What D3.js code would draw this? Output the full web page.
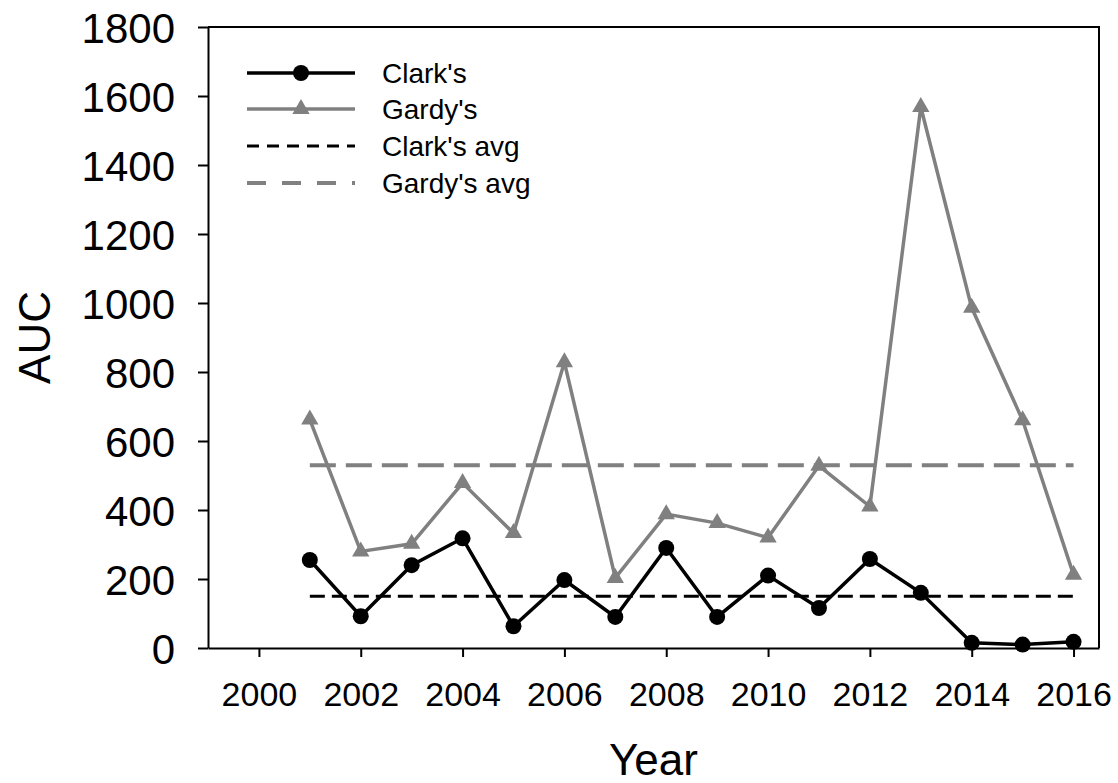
<!DOCTYPE html>
<html lang="en">
    <head>
        <meta charset="utf-8">
        <title>AUC by year</title>
        <script type="text/javascript" src="https://cdn.jsdelivr.net/npm/d3@7"></script>
        <style type="text/css">
        body { margin: 0; background: #fff; }
        text { font-family: "Liberation Sans", Arial, sans-serif; fill: #000; }
        </style>
    </head>
    <body>
        <script type="text/javascript">
            // chart size
            var w = 1118;
            var h = 783;

            // data
            var years = [2001, 2002, 2003, 2004, 2005, 2006, 2007, 2008, 2009, 2010, 2011, 2012, 2013, 2014, 2015, 2016];
            var clark = [255, 92, 240, 318, 63, 197, 90, 290, 90, 210, 116, 258, 160, 15, 10, 18];
            var gardy = [662, 280, 302, 478, 333, 828, 203, 388, 362, 320, 528, 410, 1568, 986, 660, 212];
            var clarkAvg = 150;
            var gardyAvg = 530;
            var xTicks = [2000, 2002, 2004, 2006, 2008, 2010, 2012, 2014, 2016];
            var yTicks = [0, 200, 400, 600, 800, 1000, 1200, 1400, 1600, 1800];
            var legendNames = ["Clark's", "Gardy's", "Clark's avg", "Gardy's avg"];

            var gray = "#808080";

            var svg = d3.select("body")
                        .append("svg")
                        .attr("width", w)
                        .attr("height", h);

            var x = d3.scaleLinear().domain([1999, 2016.5]).range([208, 1099]);
            var y = d3.scaleLinear().domain([0, 1800]).range([648, 27]);

            // frame (top and right)
            svg.append("path")
                .attr("d", "M" + x(1999) + "," + y(1800) + "H" + x(2016.5) + "V" + y(0))
                .attr("fill", "none")
                .attr("stroke", "#000")
                .attr("stroke-width", 2);

            // axes
            var xAxis = svg.append("g")
                .attr("transform", "translate(0," + y(0) + ")")
                .call(d3.axisBottom(x).tickValues(xTicks).tickFormat(d3.format("d")).tickSize(9).tickSizeOuter(0));
            xAxis.selectAll("text")
                .attr("y", 58)
                .attr("dy", 0)
                .attr("font-size", "34px");

            var yAxis = svg.append("g")
                .attr("transform", "translate(" + x(1999) + ",0)")
                .call(d3.axisLeft(y).tickValues(yTicks).tickFormat(d3.format("d")).tickSize(10).tickSizeOuter(0));
            yAxis.selectAll("text")
                .attr("x", -33)
                .attr("dy", "0.36em")
                .attr("font-size", "42px");

            svg.selectAll(".domain, .tick line")
                .attr("stroke", "#000")
                .attr("stroke-width", 2);

            // axis titles
            svg.append("text")
                .attr("x", (x(1999) + x(2016.5)) / 2)
                .attr("y", 775)
                .attr("text-anchor", "middle")
                .attr("font-size", "44px")
                .text("Year");

            svg.append("text")
                .attr("transform", "translate(50," + (y(0) + y(1800)) / 2 + ") rotate(-90)")
                .attr("text-anchor", "middle")
                .attr("font-size", "44px")
                .text("AUC");

            // average lines
            svg.append("line")
                .attr("x1", x(years[0])).attr("x2", x(years[years.length - 1]))
                .attr("y1", y(gardyAvg)).attr("y2", y(gardyAvg))
                .attr("stroke", gray).attr("stroke-width", 4)
                .attr("stroke-dasharray", "26,10");

            svg.append("line")
                .attr("x1", x(years[0])).attr("x2", x(years[years.length - 1]))
                .attr("y1", y(clarkAvg)).attr("y2", y(clarkAvg))
                .attr("stroke", "#000").attr("stroke-width", 3)
                .attr("stroke-dasharray", "15,7");

            var line = d3.line()
                .x(function(d, i) { return x(years[i]); })
                .y(function(d) { return y(d); });

            var tri = d3.symbol().type(d3.symbolTriangle).size(130);

            // Gardy's series
            svg.append("path")
                .datum(gardy)
                .attr("d", line)
                .attr("fill", "none")
                .attr("stroke", gray)
                .attr("stroke-width", 3.5);

            svg.selectAll(".gardy")
                .data(gardy)
                .enter()
                .append("path")
                .attr("class", "gardy")
                .attr("d", tri)
                .attr("transform", function(d, i) { return "translate(" + x(years[i]) + "," + y(d) + ")"; })
                .attr("fill", gray);

            // Clark's series
            svg.append("path")
                .datum(clark)
                .attr("d", line)
                .attr("fill", "none")
                .attr("stroke", "#000")
                .attr("stroke-width", 3.5);

            svg.selectAll(".clark")
                .data(clark)
                .enter()
                .append("circle")
                .attr("class", "clark")
                .attr("cx", function(d, i) { return x(years[i]); })
                .attr("cy", function(d) { return y(d); })
                .attr("r", 8)
                .attr("fill", "#000");

            // legend
            var legY = [73, 109, 146, 183];
            var legStyle = [
                { stroke: "#000", width: 3.5, dash: null },
                { stroke: gray, width: 3.5, dash: null },
                { stroke: "#000", width: 3, dash: "12,8" },
                { stroke: gray, width: 4, dash: "19,16" }
            ];

            var leg = svg.selectAll(".leg")
                .data(legendNames)
                .enter()
                .append("g")
                .attr("class", "leg")
                .attr("transform", function(d, i) { return "translate(0," + legY[i] + ")"; });

            leg.append("line")
                .attr("x1", 247).attr("x2", 355)
                .attr("stroke", function(d, i) { return legStyle[i].stroke; })
                .attr("stroke-width", function(d, i) { return legStyle[i].width; })
                .attr("stroke-dasharray", function(d, i) { return legStyle[i].dash; });

            leg.append("text")
                .attr("x", 382)
                .attr("dy", "0.36em")
                .attr("font-size", "28px")
                .text(function(d) { return d; });

            leg.filter(function(d, i) { return i === 0; })
                .append("circle")
                .attr("cx", 301).attr("r", 8).attr("fill", "#000");

            leg.filter(function(d, i) { return i === 1; })
                .append("path")
                .attr("d", tri)
                .attr("transform", "translate(301,0)")
                .attr("fill", gray);
        </script>
    </body>
</html>
